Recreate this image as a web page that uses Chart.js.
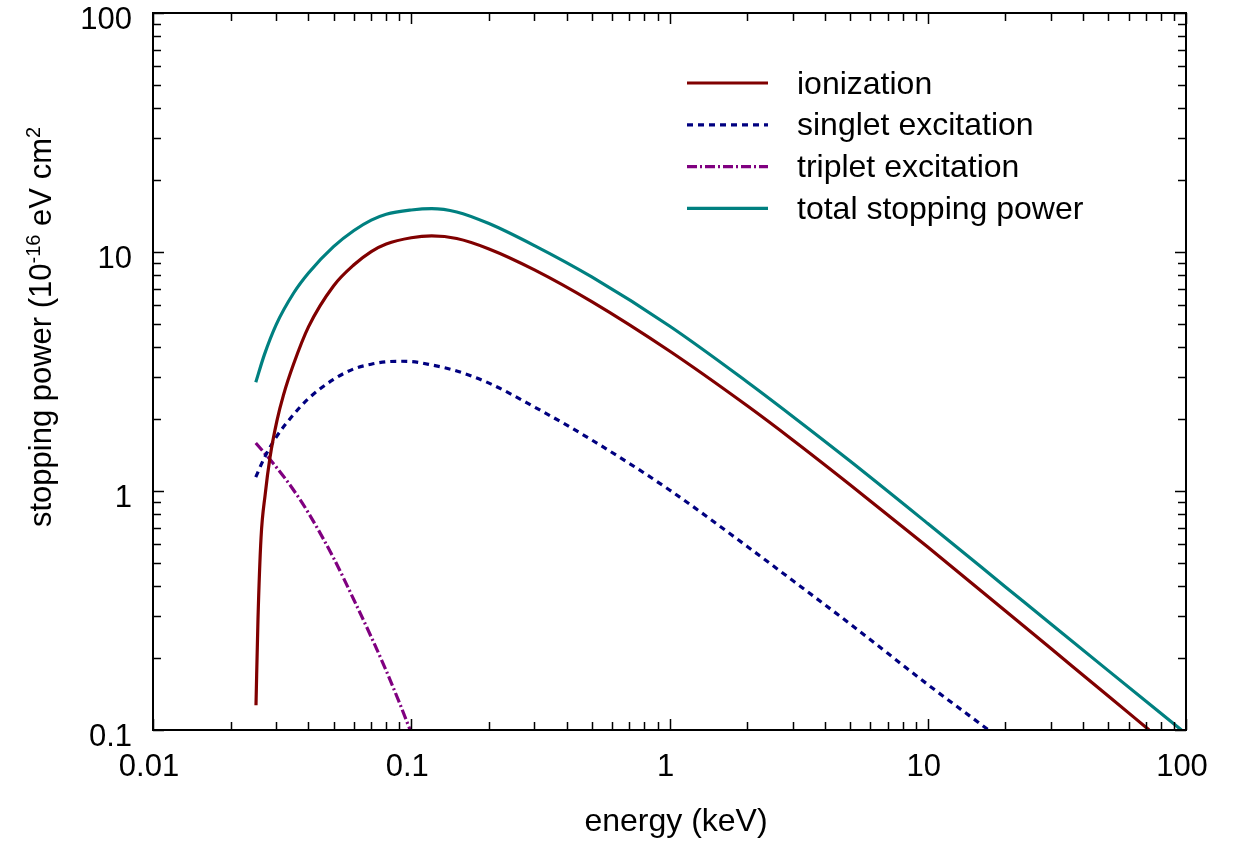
<!DOCTYPE html>
<html><head><meta charset="utf-8">
<script src="https://cdn.jsdelivr.net/npm/chart.js@4/dist/chart.umd.min.js"></script>
<style>html,body{margin:0;padding:0;background:#fff}canvas{display:block}</style>
</head><body>
<canvas id="c" width="1240" height="842"></canvas>
<script>
// ---- data (energy in keV, stopping power in 1e-16 eV cm^2) ----
const ionEnergy = [0.02505, 0.0255, 0.0262, 0.0272, 0.0284, 0.0302, 0.032, 0.035, 0.04, 0.05, 0.06, 0.07, 0.08, 0.1, 0.12, 0.15, 0.2, 0.3, 0.5, 1, 2, 3, 5, 10, 20, 30, 50, 72];
const ionization = [0.127, 0.291, 0.636, 0.971, 1.388, 1.971, 2.52, 3.39, 4.86, 7.21, 8.84, 10.04, 10.80, 11.47, 11.67, 11.39, 10.30, 8.42, 6.20, 3.853, 2.273, 1.636, 1.063, 0.5835, 0.3147, 0.2191, 0.1389, 0.1];

const singletEnergy = [0.025, 0.027, 0.03, 0.035, 0.04, 0.05, 0.06, 0.07, 0.08, 0.09, 0.1, 0.12, 0.15, 0.2, 0.3, 0.5, 1, 2, 3, 5, 10, 17.2];
const singlet = [1.144, 1.378, 1.681, 2.088, 2.438, 2.93, 3.245, 3.393, 3.472, 3.49, 3.481, 3.367, 3.178, 2.828, 2.246, 1.635, 1.01, 0.586, 0.422, 0.278, 0.155, 0.1];

const tripletEnergy = [0.025, 0.03, 0.035, 0.04, 0.05, 0.06, 0.07, 0.08, 0.09, 0.099];
const triplet = [1.588, 1.26, 1.01, 0.809, 0.525, 0.35, 0.245, 0.177, 0.13, 0.1];

const totalEnergy = [0.025, 0.027, 0.03, 0.035, 0.04, 0.05, 0.06, 0.07, 0.08, 0.1, 0.12, 0.15, 0.2, 0.3, 0.5, 1, 2, 3, 5, 10, 20, 30, 50, 96];
const total = [2.85, 3.72, 4.97, 6.72, 8.17, 10.53, 12.30, 13.59, 14.39, 14.99, 15.19, 14.71, 13.15, 10.63, 7.86, 4.90, 2.858, 2.051, 1.335, 0.731, 0.397, 0.2777, 0.1772, 0.1];

const seriesNames = ['ionization', 'singlet excitation', 'triplet excitation', 'total stopping power'];
const xTickValues = [0.01, 0.1, 1, 10, 100];
const xTickLabels = ['0.01', '0.1', '1', '10', '100'];
const yTickValues = [0.1, 1, 10, 100];
const yTickLabels = ['0.1', '1', '10', '100'];
const xTitle = 'energy (keV)';
const yTitleParts = [['stopping power (10', false], ['-16', true], [' eV cm', false], ['2', true]];

const FONT = '"Liberation Sans", Arial, Helvetica, sans-serif';

function pts(xs, ys) { return xs.map((x, i) => ({ x: x, y: ys[i] })); }

const framePlugin = {
  id: 'frameTicks',
  afterDatasetsDraw(chart) {
    const ctx = chart.ctx, a = chart.chartArea;
    const xs = chart.scales.x, ys = chart.scales.y;
    ctx.save();
    ctx.strokeStyle = '#000';
    ctx.lineWidth = 1.5;
    const majL = 11, minL = 8;
    ctx.beginPath();
    for (let d = -2; d <= 2; d++) {
      for (let m = 1; m <= 9; m++) {
        const v = m * Math.pow(10, d);
        if (v > 100.0001) continue;
        const p = Math.round(xs.getPixelForValue(v)) + 0.5;
        const L = m === 1 ? majL : minL;
        ctx.moveTo(p, a.bottom); ctx.lineTo(p, a.bottom - L);
        ctx.moveTo(p, a.top); ctx.lineTo(p, a.top + L);
      }
    }
    for (let d = -1; d <= 2; d++) {
      for (let m = 1; m <= 9; m++) {
        const v = m * Math.pow(10, d);
        if (v > 100.0001) continue;
        const p = Math.round(ys.getPixelForValue(v)) + 0.5;
        const L = m === 1 ? majL : minL;
        ctx.moveTo(a.left, p); ctx.lineTo(a.left + L, p);
        ctx.moveTo(a.right, p); ctx.lineTo(a.right - L, p);
      }
    }
    ctx.stroke();
    ctx.lineWidth = 2;
    ctx.strokeRect(a.left, a.top, a.right - a.left, a.bottom - a.top);

    // legend
    const lx0 = 687, lx1 = 768, tx = 797, ly0 = 83, step = 41.8;
    ctx.font = '32px ' + FONT;
    ctx.fillStyle = '#000';
    ctx.textAlign = 'left';
    ctx.textBaseline = 'alphabetic';
    chart.data.datasets.forEach((ds, i) => {
      const y = ly0 + i * step;
      ctx.save();
      ctx.strokeStyle = ds.borderColor;
      ctx.lineWidth = ds.borderWidth;
      ctx.setLineDash(ds.borderDash || []);
      ctx.beginPath(); ctx.moveTo(lx0, y); ctx.lineTo(lx1, y); ctx.stroke();
      ctx.restore();
      ctx.fillText(ds.label, tx, y + 10.5);
    });

    // x title
    ctx.textAlign = 'center';
    ctx.textBaseline = 'middle';
    ctx.font = '32px ' + FONT;
    ctx.fillText(xTitle, 676, 822);

    // y title with superscripts
    const big = '31px ' + FONT, small = '20px ' + FONT;
    let w = 0;
    yTitleParts.forEach(([t, sup]) => { ctx.font = sup ? small : big; w += ctx.measureText(t).width; });
    ctx.save();
    ctx.translate(51, 327 + w / 2);
    ctx.rotate(-Math.PI / 2);
    ctx.textAlign = 'left';
    ctx.textBaseline = 'alphabetic';
    let x = 0;
    yTitleParts.forEach(([t, sup]) => {
      ctx.font = sup ? small : big;
      ctx.fillText(t, x, sup ? -11 : 0);
      x += ctx.measureText(t).width;
    });
    ctx.restore();
    ctx.restore();
  }
};

const common = { pointRadius: 0, pointHoverRadius: 0, borderWidth: 3.2, showLine: true, fill: false, cubicInterpolationMode: 'monotone' };

new Chart(document.getElementById('c'), {
  type: 'scatter',
  data: {
    datasets: [
      Object.assign({ label: seriesNames[0], data: pts(ionEnergy, ionization), borderColor: '#800000', backgroundColor: '#800000' }, common),
      Object.assign({ label: seriesNames[1], data: pts(singletEnergy, singlet), borderColor: '#000080', backgroundColor: '#000080', borderDash: [6, 5] }, common),
      Object.assign({ label: seriesNames[2], data: pts(tripletEnergy, triplet), borderColor: '#800080', backgroundColor: '#800080', borderDash: [10, 3, 2, 3] }, common),
      Object.assign({ label: seriesNames[3], data: pts(totalEnergy, total), borderColor: '#008080', backgroundColor: '#008080' }, common)
    ]
  },
  options: {
    responsive: false,
    animation: false,
    devicePixelRatio: 1,
    layout: { padding: { left: 0, top: 13, right: 54, bottom: 0 } },
    plugins: { legend: { display: false }, tooltip: { enabled: false } },
    scales: {
      x: {
        type: 'logarithmic', min: 0.01, max: 100,
        grid: { display: false, drawTicks: false },
        border: { display: false },
        ticks: {
          autoSkip: false, maxRotation: 0, padding: 19, labelOffset: -4,
          color: '#000', font: { family: FONT, size: 31 },
          callback: (v) => { const i = xTickValues.findIndex(t => Math.abs(t - v) / t < 1e-6); return i >= 0 ? xTickLabels[i] : ''; }
        },
        afterBuildTicks: (s) => { s.ticks = xTickValues.map(v => ({ value: v })); },
        afterFit: (s) => { s.height = 112; s.paddingLeft = 0; s.paddingRight = 0; s.paddingTop = 0; s.paddingBottom = 0; }
      },
      y: {
        type: 'logarithmic', min: 0.1, max: 100,
        grid: { display: false, drawTicks: false },
        border: { display: false },
        ticks: {
          autoSkip: false, padding: 21, labelOffset: 7,
          color: '#000', font: { family: FONT, size: 31 },
          callback: (v) => { const i = yTickValues.findIndex(t => Math.abs(t - v) / t < 1e-6); return i >= 0 ? yTickLabels[i] : ''; }
        },
        afterBuildTicks: (s) => { s.ticks = yTickValues.map(v => ({ value: v })); },
        afterFit: (s) => { s.width = 153; s.paddingLeft = 0; s.paddingRight = 0; s.paddingTop = 0; s.paddingBottom = 0; }
      }
    }
  },
  plugins: [framePlugin]
});
</script>
</body></html>
